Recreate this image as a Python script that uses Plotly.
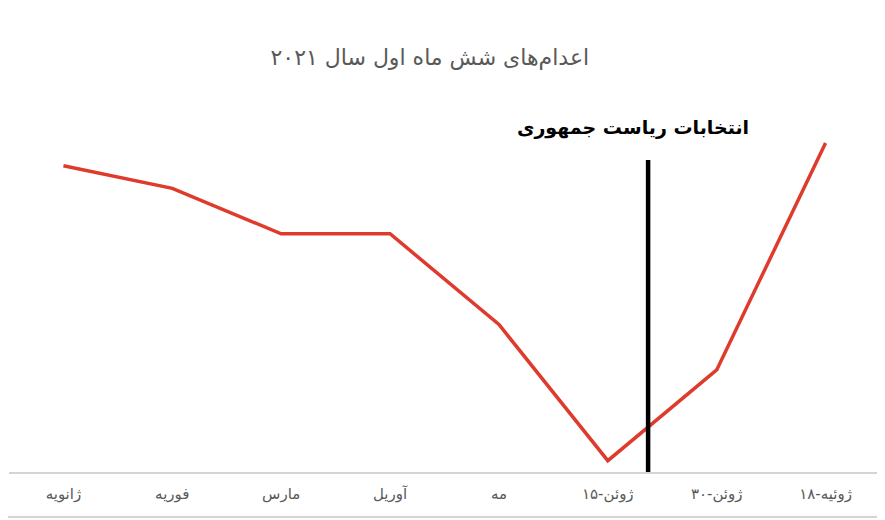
import plotly.graph_objects as go

# Dados
meses = ["ژانویه", "فوریه", "مارس", "آوریل", "مه", "ژوئن-۱۵", "ژوئن-۳۰", "ژوئیه-۱۸"]
posicoes = list(range(len(meses)))
execucoes = [27, 25, 21, 21, 13, 1, 9, 29]

eleicao_x = [5.37, 5.37]
eleicao_y = [0, 27.5]
eleicao_texto = "انتخابات ریاست جمهوری"
eleicao_rotulo_x = 5.23
eleicao_rotulo_y = 30.4

TITULO = "اعدام‌های شش ماه اول سال ۲۰۲۱"

fig = go.Figure()

fig.add_trace(go.Scatter(
    x=posicoes, y=execucoes, mode="lines",
    line=dict(color="#DF3B2D", width=3.5),
    text=meses, hoverinfo="text+y"
))

# linha vertical da eleição
fig.add_trace(go.Scatter(
    x=eleicao_x, y=eleicao_y, mode="lines",
    line=dict(color="black", width=4.5),
    hoverinfo="skip"
))

fig.add_annotation(
    x=eleicao_rotulo_x, y=eleicao_rotulo_y, xref="x", yref="y",
    text="<b>" + eleicao_texto + "</b>", showarrow=False,
    font=dict(family="DejaVu Sans", size=19, color="black")
)

fig.update_layout(
    width=877, height=512,
    paper_bgcolor="white", plot_bgcolor="white",
    showlegend=False,
    title=dict(
        text=TITULO, x=0.481, xanchor="center", y=0.904, yanchor="middle",
        font=dict(family="DejaVu Sans", size=22, color="#595959")
    ),
    margin=dict(l=1, r=5, t=101, b=48),
    font=dict(family="DejaVu Sans", size=14, color="#595959"),
    xaxis=dict(
        range=[-0.5, 7.5], tickmode="array", tickvals=posicoes, ticktext=meses,
        showgrid=False, zeroline=False,
        showline=True, linecolor="#d4d4d4", linewidth=1.5,
        ticks="outside", ticklen=7, tickcolor="rgba(0,0,0,0)",
        tickfont=dict(size=15, color="#595959")
    ),
    yaxis=dict(
        range=[0, 32], showgrid=False, zeroline=False,
        showticklabels=False, showline=False
    ),
)

# borda inferior do quadro
fig.add_shape(type="line", xref="paper", yref="paper",
              x0=-0.02, x1=1.02, y0=-0.124, y1=-0.124,
              line=dict(color="#d4d4d4", width=2))

fig.write_html("out.html")
